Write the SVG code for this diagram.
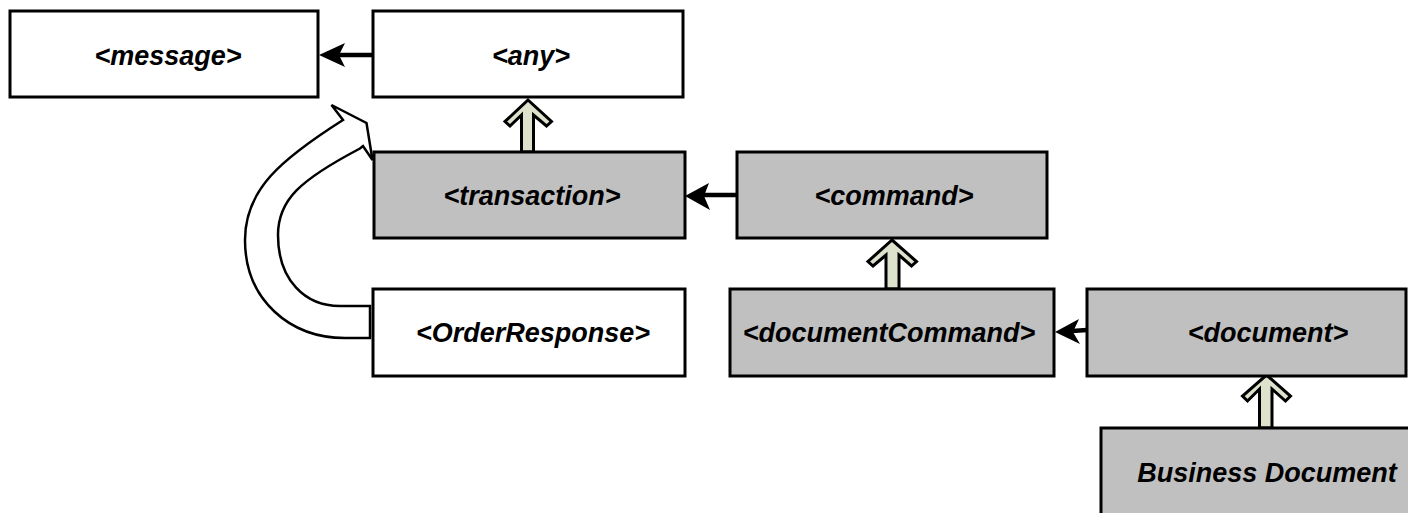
<svg xmlns="http://www.w3.org/2000/svg" width="1408" height="513" viewBox="0 0 1408 513">
<style>
.box{stroke:#000;stroke-width:3}
.w{fill:#fff}
.g{fill:#c0c0c0}
.t{font-family:"Liberation Sans",Arial,sans-serif;font-weight:bold;font-style:italic;font-size:27px;fill:#000;text-anchor:middle;dominant-baseline:central}
.line{stroke:#000;stroke-width:4.5;fill:none}
.head{fill:#000;stroke:none}
.gen{fill:#dde2cd;stroke:#000;stroke-width:3;stroke-linejoin:miter}
.curve{fill:#fff;stroke:#000;stroke-width:2.5;stroke-linejoin:miter}
</style>
<rect width="1408" height="513" fill="#fff"/>
<g id="connectors">
<line class="line" x1="373" y1="55" x2="336" y2="55"/>
<path class="head" d="M319,55 L345,43 L339,55 L345,67 Z"/>
<line class="line" x1="737" y1="195" x2="702" y2="195"/>
<path class="head" d="M685,196 L709,183 L704,196 L710,210 Z"/>
<line class="line" x1="1087" y1="330" x2="1072" y2="331"/>
<path class="head" d="M1055,332 L1079,319 L1073,332 L1080,344 Z"/>
<path class="gen" d="M528,100 L551.5,121.5 L546.5,126 L533.5,115 L533.5,152 L521.5,152 L521.5,115 L510,126 L505,121.5 Z"/>
<path class="gen" d="M892,240 L916.5,261.5 L911.5,266 L899,255 L899,289 L886,289 L886,255 L873,266 L868,261.5 Z"/>
<path class="gen" d="M1266.5,375 L1290.5,396 L1285.5,401 L1272,389 L1272,428 L1259.5,428 L1259.5,389 L1247.5,401 L1242.5,396 Z"/>
<path class="curve" d="M370,306 L370,338 L345,338 C290,338 245,300 245,240 C245,190 280,160 343,120 L331.5,105 L366.5,123 L372.5,160 L363,146 L360,148.5 C300,180 278,200 278,235 C278,280 305,306 340,306 Z"/>
</g>
<g id="node-message"><rect class="box w" x="10" y="11" width="308" height="86"/><text class="t" x="168" y="56">&lt;message&gt;</text></g>
<g id="node-any"><rect class="box w" x="373" y="11" width="310" height="86"/><text class="t" x="531" y="56">&lt;any&gt;</text></g>
<g id="node-transaction"><rect class="box g" x="374" y="152" width="311" height="86"/><text class="t" x="532" y="196">&lt;transaction&gt;</text></g>
<g id="node-command"><rect class="box g" x="737" y="152" width="310" height="86"/><text class="t" x="894" y="196">&lt;command&gt;</text></g>
<g id="node-orderresponse"><rect class="box w" x="373" y="289" width="312" height="87"/><text class="t" x="533" y="333">&lt;OrderResponse&gt;</text></g>
<g id="node-documentcommand"><rect class="box g" x="730" y="289" width="324" height="87"/><text class="t" x="889" y="333">&lt;documentCommand&gt;</text></g>
<g id="node-document"><rect class="box g" x="1087" y="289" width="319" height="87"/><text class="t" x="1268" y="333">&lt;document&gt;</text></g>
<g id="node-business-document"><rect class="box g" x="1101" y="428" width="330" height="100"/><text class="t" x="1267" y="473">Business Document</text></g>
</svg>
